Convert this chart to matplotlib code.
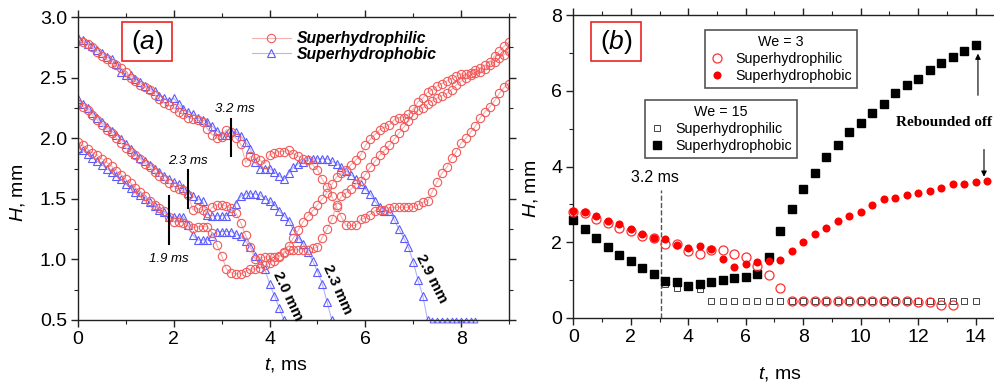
import numpy as np
import matplotlib
matplotlib.use("Agg")
import matplotlib.pyplot as plt
from matplotlib.ticker import MultipleLocator
from matplotlib.patches import Rectangle

plt.rcParams['font.family'] = ['Liberation Sans', 'DejaVu Sans']
plt.rcParams['mathtext.fontset'] = 'custom'
plt.rcParams['mathtext.it'] = 'Liberation Sans:italic'
plt.rcParams['mathtext.rm'] = 'Liberation Sans'

# ---------------- Panel (a) data (sampled every 0.1 ms) ----------------
DT_A = 0.1
philic_29 = [2.80, 2.79, 2.78, 2.75, 2.71, 2.68, 2.65, 2.62, 2.60, 2.58,
             2.55, 2.50, 2.47, 2.44, 2.42, 2.40, 2.36, 2.32, 2.29, 2.27,
             2.25, 2.22, 2.20, 2.17, 2.16, 2.15, 2.13, 2.08, 2.03, 2.00,
             2.01, 2.07, 2.05, 2.00, 1.95, 1.80, 1.85, 1.84, 1.82, 1.79,
             1.86, 1.88, 1.89, 1.89, 1.90, 1.87, 1.85, 1.83, 1.82, 1.78,
             1.74, 1.66, 1.60, 1.52, 1.43, 1.35, 1.28, 1.28, 1.28, 1.33,
             1.34, 1.37, 1.40, 1.41, 1.41, 1.42, 1.43, 1.43, 1.43, 1.43,
             1.43, 1.45, 1.47, 1.48, 1.56, 1.64, 1.71, 1.76, 1.84, 1.89,
             1.96, 2.00, 2.05, 2.10, 2.17, 2.22, 2.26, 2.31, 2.37, 2.42,
             2.45]
philic_23 = [2.28, 2.26, 2.23, 2.19, 2.15, 2.11, 2.07, 2.04, 2.00, 1.96,
             1.92, 1.89, 1.86, 1.83, 1.79, 1.76, 1.72, 1.69, 1.66, 1.63,
             1.60, 1.58, 1.57, 1.53, 1.41, 1.42, 1.41, 1.38, 1.43, 1.45,
             1.45, 1.44, 1.42, 1.38, 1.30, 1.20, 1.10, 1.00, 1.01, 1.02,
             1.02, 1.02, 1.03, 1.05, 1.08, 1.08, 1.08, 1.08, 1.08, 1.09,
             1.10, 1.18, 1.25, 1.33, 1.45, 1.52, 1.55, 1.58, 1.62, 1.65,
             1.70, 1.76, 1.81, 1.86, 1.90, 1.94, 1.99, 2.04, 2.09, 2.14,
             2.19, 2.23, 2.25, 2.28, 2.31, 2.33, 2.35, 2.37, 2.40, 2.44,
             2.47, 2.50, 2.52, 2.54, 2.55, 2.57, 2.60, 2.63, 2.66, 2.69,
             2.72]
philic_20 = [1.97, 1.94, 1.91, 1.88, 1.86, 1.83, 1.80, 1.77, 1.73, 1.70,
             1.66, 1.63, 1.59, 1.56, 1.52, 1.48, 1.45, 1.42, 1.40, 1.35,
             1.31, 1.31, 1.30, 1.28, 1.26, 1.27, 1.27, 1.27, 1.22, 1.12,
             1.03, 0.92, 0.89, 0.88, 0.88, 0.90, 0.92, 0.92, 0.93, 0.95,
             0.97, 0.99, 1.02, 1.06, 1.11, 1.18, 1.24, 1.31, 1.36, 1.40,
             1.45, 1.50, 1.55, 1.62, 1.68, 1.71, 1.74, 1.78, 1.82, 1.86,
             1.94, 1.99, 2.03, 2.07, 2.09, 2.11, 2.15, 2.17, 2.17, 2.20,
             2.24, 2.30, 2.33, 2.38, 2.40, 2.43, 2.45, 2.47, 2.49, 2.51,
             2.53, 2.53, 2.54, 2.56, 2.58, 2.60, 2.63, 2.68, 2.72, 2.76,
             2.79]
phobic_29 = [2.83, 2.81, 2.78, 2.76, 2.73, 2.70, 2.67, 2.65, 2.61, 2.55,
             2.52, 2.52, 2.49, 2.46, 2.43, 2.41, 2.39, 2.35, 2.33, 2.31,
             2.33, 2.28, 2.24, 2.22, 2.20, 2.17, 2.15, 2.13, 2.10, 2.06,
             2.03, 2.03, 2.05, 2.05, 2.02, 1.97, 1.91, 1.80, 1.75, 1.75,
             1.75, 1.72, 1.69, 1.66, 1.71, 1.76, 1.79, 1.80, 1.83, 1.83,
             1.83, 1.83, 1.83, 1.81, 1.79, 1.76, 1.73, 1.70, 1.66, 1.62,
             1.58, 1.54, 1.48, 1.43, 1.40, 1.40, 1.33, 1.25, 1.18, 1.10,
             0.98, 0.83, 0.70, 0.50]
phobic_29_tail_t = [7.4, 7.5, 7.6, 7.7, 7.8, 7.9, 8.0, 8.1, 8.2, 8.3]
phobic_29_tail_h = [0.50, 0.50, 0.50, 0.50, 0.50, 0.50, 0.50, 0.50, 0.50, 0.50]
phobic_23 = [2.32, 2.28, 2.25, 2.21, 2.17, 2.13, 2.09, 2.06, 2.03, 1.99,
             1.95, 1.91, 1.87, 1.84, 1.81, 1.78, 1.75, 1.72, 1.69, 1.66,
             1.64, 1.62, 1.59, 1.55, 1.52, 1.50, 1.48, 1.37, 1.36, 1.36,
             1.36, 1.36, 1.40, 1.46, 1.52, 1.54, 1.54, 1.54, 1.53, 1.50,
             1.48, 1.45, 1.40, 1.36, 1.32, 1.24, 1.18, 1.13, 1.06, 0.99,
             0.90, 0.80, 0.65, 0.50]
phobic_20 = [1.92, 1.90, 1.87, 1.84, 1.81, 1.78, 1.75, 1.72, 1.69, 1.66,
             1.62, 1.59, 1.56, 1.53, 1.50, 1.47, 1.44, 1.41, 1.39, 1.35,
             1.35, 1.35, 1.35, 1.28, 1.20, 1.16, 1.16, 1.16, 1.19, 1.23,
             1.23, 1.23, 1.23, 1.21, 1.19, 1.15, 1.10, 1.03, 0.97, 0.92,
             0.80, 0.70, 0.60, 0.50]

# ---------------- Panel (b) data (sampled every 0.4 ms) ----------------
DT_B = 0.4
we3_philic = [2.80, 2.76, 2.61, 2.51, 2.38, 2.29, 2.16, 2.10, 1.95, 1.95,
              1.76, 1.70, 1.79, 1.79, 1.70, 1.60, 1.38, 1.13, 0.78, 0.46,
              0.46, 0.46, 0.46, 0.46, 0.46, 0.46, 0.46, 0.46, 0.46, 0.46,
              0.41, 0.41, 0.35, 0.35]
we3_phobic = [2.82, 2.81, 2.69, 2.57, 2.48, 2.34, 2.23, 2.12, 2.08, 1.93,
              1.86, 1.91, 1.81, 1.57, 1.35, 1.42, 1.49, 1.50, 1.53, 1.77,
              2.00, 2.21, 2.37, 2.56, 2.69, 2.81, 2.98, 3.13, 3.18, 3.26,
              3.31, 3.36, 3.44, 3.54, 3.54, 3.59, 3.63]
we15_phobic = [2.59, 2.34, 2.10, 1.88, 1.66, 1.50, 1.31, 1.16, 0.98, 0.94,
               0.85, 0.89, 0.94, 1.00, 1.06, 1.09, 1.16, 1.60, 2.30, 2.88,
               3.40, 3.84, 4.24, 4.58, 4.92, 5.15, 5.42, 5.66, 5.93, 6.15,
               6.31, 6.56, 6.72, 6.88, 7.05, 7.20]
we15_philic_t0 = 3.2
we15_philic = [0.89, 0.80, 0.83, 0.76, 0.46, 0.46, 0.46, 0.46, 0.46, 0.46,
               0.46, 0.46, 0.46, 0.46, 0.46, 0.46, 0.46, 0.46, 0.46, 0.46,
               0.45, 0.45, 0.45, 0.45, 0.45, 0.46, 0.46, 0.46]

def tgrid(vals, dt, t0=0.0):
    return t0 + np.arange(len(vals)) * dt

fig = plt.figure(figsize=(9.95, 3.85), dpi=100)
axA = fig.add_axes([78/995, 1-320/385, 431/995, 303/385])
axB = fig.add_axes([573.3/995, 1-318/385, 431.1/995, 303/385])

RED_L, RED_M = '#f7b0b0', '#f25a5a'
BLU_L, BLU_M = '#b3b3ff', '#5a5aff'

def style_axes(ax):
    for s in ax.spines.values():
        s.set_linewidth(1.0)
        s.set_color('#222222')
    ax.tick_params(which='both', direction='out', top=True, right=True,
                   labelsize=14, pad=3, color='#222222')
    ax.tick_params(which='major', length=5, width=1)
    ax.tick_params(which='minor', length=3, width=0.8)

# ---- panel (a)
kw_r = dict(color=RED_L, lw=0.8, marker='o', ms=6, mfc='none', mec=RED_M, mew=0.8)
kw_b = dict(color=BLU_L, lw=0.8, marker='^', ms=6.3, mfc='none', mec=BLU_M, mew=0.8)
hb, = axA.plot(tgrid(phobic_29, DT_A), phobic_29, **kw_b)
axA.plot(tgrid(phobic_23, DT_A), phobic_23, **kw_b)
axA.plot(tgrid(phobic_20, DT_A), phobic_20, **kw_b)
axA.plot(phobic_29_tail_t, phobic_29_tail_h, color=BLU_L, lw=0.8, marker='^',
         ms=3.5, mfc='none', mec=BLU_M, mew=0.7, clip_on=False)
hr, = axA.plot(tgrid(philic_29, DT_A), philic_29, **kw_r)
axA.plot(tgrid(philic_23, DT_A), philic_23, **kw_r)
axA.plot(tgrid(philic_20, DT_A), philic_20, **kw_r)

axA.set_xlim(0, 9)
axA.set_ylim(0.5, 3.0)
axA.xaxis.set_major_locator(MultipleLocator(2))
axA.xaxis.set_minor_locator(MultipleLocator(1))
axA.yaxis.set_major_locator(MultipleLocator(0.5))
axA.yaxis.set_minor_locator(MultipleLocator(0.25))
axA.yaxis.set_major_formatter(matplotlib.ticker.FormatStrFormatter('%.1f'))
style_axes(axA)
axA.set_xlabel('$t$, ms', fontsize=14)
axA.set_ylabel('$H$, mm', fontsize=14)
axA.xaxis.set_label_coords(0.483, -0.12)
axA.yaxis.set_label_coords(-0.118, 0.42)

# time markers
marks_a = [(1.9, 1.13, 1.52, 1.0), (2.3, 1.42, 1.74, 1.81), (3.2, 1.85, 2.16, 2.24)]
for tm, y0, y1, ytxt in marks_a:
    axA.plot([tm, tm], [y0, y1], color='black', lw=1.5)
    axA.text(tm + (0.08 if tm > 3 else 0.0), ytxt, f'{tm:.1f} ms', fontsize=9.5,
             style='italic', ha='center', va='center')
size_labels = [(4.38, 0.70, '2.0 mm', -65), (5.41, 0.755, '2.3 mm', -66),
               (7.39, 0.84, '2.9 mm', -63)]
for tx, ty, s, rot in size_labels:
    axA.text(tx, ty, s, fontsize=11, fontweight='bold', rotation=rot,
             ha='center', va='center', rotation_mode='anchor')

leg = axA.legend([hr, hb], ['Superhydrophilic', 'Superhydrophobic'],
                 loc='upper left', bbox_to_anchor=(0.37, 1.0), frameon=False,
                 handlelength=2.5, labelspacing=0.05, handletextpad=0.4,
                 prop=dict(weight='bold', style='italic', size=11.3))

axA.add_patch(Rectangle((0.102, 0.855), 0.116, 0.128, transform=axA.transAxes,
                        fill=True, fc='white', ec='#ee2222', lw=1.2, zorder=5))
axA.text(0.160, 0.919, '($a$)', transform=axA.transAxes, fontsize=19,
         ha='center', va='center', zorder=6)

# ---- panel (b)
h15o, = axB.plot(tgrid(we15_philic, DT_B, we15_philic_t0), we15_philic, ls='none',
                 marker='s', ms=4.2, mfc='none', mec='#444444', mew=0.7)
h15f, = axB.plot(tgrid(we15_phobic, DT_B), we15_phobic, ls='none', marker='s',
                 ms=5.6, color='black', clip_on=False, zorder=3)
h3o, = axB.plot(tgrid(we3_philic, DT_B), we3_philic, ls='none', marker='o',
                ms=6.5, mfc='none', mec='#ff3030', mew=0.9, clip_on=False, zorder=3)
h3f, = axB.plot(tgrid(we3_phobic, DT_B), we3_phobic, ls='none', marker='o',
                ms=5.8, color='#ff0000', mec='none', clip_on=False, zorder=4)

axB.set_xlim(0, 15)
axB.set_ylim(0, 8)
axB.xaxis.set_major_locator(MultipleLocator(2))
axB.xaxis.set_minor_locator(MultipleLocator(1))
axB.yaxis.set_major_locator(MultipleLocator(2))
axB.yaxis.set_minor_locator(MultipleLocator(1))
style_axes(axB)
axB.set_xlabel('$t$, ms', fontsize=14)
axB.set_ylabel('$H$, mm', fontsize=14)
axB.xaxis.set_label_coords(0.48, -0.155)
axB.yaxis.set_label_coords(-0.077, 0.426)

legkw = dict(loc='upper left', borderaxespad=0, fontsize=10.3, title_fontsize=10.3,
             handlelength=1.0, handletextpad=0.75, labelspacing=0.22,
             borderpad=0.35, fancybox=False, framealpha=1, edgecolor='#555555')
lg3 = axB.legend([h3o, h3f], ['Superhydrophilic', 'Superhydrophobic'],
                 title='We = 3', bbox_to_anchor=(0.3055, 0.950), **legkw)
lg3.get_frame().set_linewidth(1.2)
axB.add_artist(lg3)
lg15 = axB.legend([h15o, h15f], ['Superhydrophilic', 'Superhydrophobic'],
                  title='We = 15', bbox_to_anchor=(0.1663, 0.7195), **legkw)
lg15.get_frame().set_linewidth(1.2)

T_MARK_B, H_MARK_B = 3.05, 3.38
axB.plot([T_MARK_B, T_MARK_B], [0, H_MARK_B], ls='--', color='#555555', lw=1)
axB.text(2.85, 3.72, '3.2 ms', fontsize=11.5, ha='center', va='center')

axB.text(12.9, 5.17, 'Rebounded off', fontsize=11, fontweight='bold',
         family=['Liberation Serif', 'DejaVu Serif'], ha='center', va='center')
axB.annotate('', xy=(14.08, 6.98), xytext=(14.08, 5.88),
             arrowprops=dict(arrowstyle='-|>', color='black', lw=0.8,
                             mutation_scale=8, shrinkA=0, shrinkB=0))
axB.annotate('', xy=(14.29, 3.73), xytext=(14.29, 4.45),
             arrowprops=dict(arrowstyle='-|>', color='black', lw=0.8,
                             mutation_scale=8, shrinkA=0, shrinkB=0))

axB.add_patch(Rectangle((0.041, 0.848), 0.116, 0.129, transform=axB.transAxes,
                        fill=True, fc='white', ec='#ee2222', lw=1.2, zorder=5))
axB.text(0.099, 0.9125, '($b$)', transform=axB.transAxes, fontsize=19,
         ha='center', va='center', zorder=6)

fig.savefig('out.png', dpi=100)
